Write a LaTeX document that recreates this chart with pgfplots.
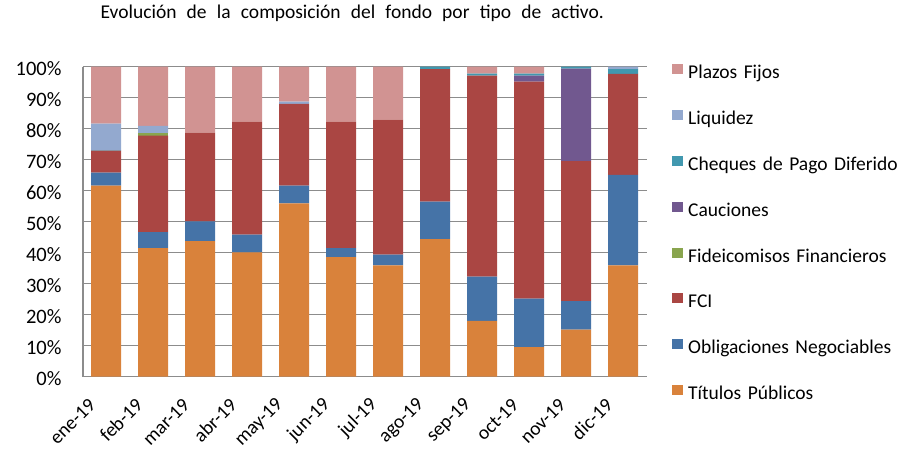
\documentclass[border=0pt]{standalone}
\usepackage{pgfplots}
\pgfplotsset{compat=1.18}
\usepackage{fontspec}
\setmainfont{Carlito}
\definecolor{cTP}{HTML}{D9823B}
\definecolor{cON}{HTML}{4573A7}
\definecolor{cFCI}{HTML}{AA4643}
\definecolor{cFF}{HTML}{89A54E}
\definecolor{cCau}{HTML}{71588F}
\definecolor{cCPD}{HTML}{4198AF}
\definecolor{cLiq}{HTML}{93A9CF}
\definecolor{cPF}{HTML}{D19392}
\definecolor{cGrid}{HTML}{8C8C8C}
\newcommand\legfont{\fontsize{19.5}{22}\selectfont\spaceskip=6.5pt\relax}
\begin{document}
\begin{tikzpicture}
\useasboundingbox (0,0) rectangle (899pt,452pt);
\begin{axis}[
  at={(82.7pt,75.3pt)}, anchor=south west,
  scale only axis, width=564pt, height=310pt,
  ybar stacked, bar width=30pt,
  xmin=-0.5, xmax=11.5, ymin=0, ymax=100,
  xtick=data,
  xticklabels={ene-19,feb-19,mar-19,abr-19,may-19,jun-19,jul-19,ago-19,sep-19,oct-19,nov-19,dic-19},
  ytick={0,10,...,100},
  yticklabels={0\%,10\%,20\%,30\%,40\%,50\%,60\%,70\%,80\%,90\%,100\%},
  major tick length=0pt,
  tick label style={font=\fontsize{19.5}{22}\selectfont},
  yticklabel style={font=\fontsize{20.5}{22}\selectfont, inner sep=0pt, xshift=-21pt, yshift=-2pt},
  xticklabel style={inner sep=0pt, anchor=east, xshift=-14pt, yshift=-25pt, rotate=45},
  ymajorgrids, grid style={cGrid, line width=1.6pt},
  axis x line*=bottom, axis y line*=left,
  axis line style={cGrid, line width=1.6pt},
  x axis line style={-}, y axis line style={-},
  title={\spaceskip=10.2pt\relax Evolución de la composición del fondo por tipo de activo.},
  title style={font=\fontsize{19.5}{22}\selectfont, at={(0.478,1)}, anchor=base, yshift=42.4pt, inner sep=0pt},
  legend style={at={(1,1)}, anchor=north west, xshift=25.3pt, yshift=2.5pt, draw=none,
    font=\legfont, row sep=29.8pt, column sep=5pt, inner sep=0pt,
    nodes={inner sep=0pt}},
  legend cell align=left,
  reverse legend,
  legend image code/.code={\path[#1,draw=none] (0pt,-1.5pt) rectangle (11pt,8.5pt);},
]
\addplot[fill=cTP, draw=none] coordinates {(0,61.6) (1,41.5) (2,43.7) (3,40.1) (4,55.9) (5,38.6) (6,35.9) (7,44.4) (8,18.0) (9,9.5) (10,15.2) (11,35.9)};
\addplot[fill=cON, draw=none] coordinates {(0,4.2) (1,5.1) (2,6.4) (3,5.7) (4,5.7) (5,2.9) (6,3.5) (7,12.1) (8,14.3) (9,15.7) (10,9.2) (11,29.2)};
\addplot[fill=cFCI, draw=none] coordinates {(0,7.1) (1,31.2) (2,28.6) (3,36.5) (4,26.4) (5,40.8) (6,43.5) (7,42.7) (8,64.8) (9,70.0) (10,45.1) (11,32.6)};
\addplot[fill=cFF, draw=none] coordinates {(0,0) (1,0.8) (2,0) (3,0) (4,0) (5,0) (6,0) (7,0) (8,0) (9,0) (10,0) (11,0)};
\addplot[fill=cCau, draw=none] coordinates {(0,0) (1,0) (2,0) (3,0) (4,0) (5,0) (6,0) (7,0) (8,0) (9,1.9) (10,29.9) (11,0)};
\addplot[fill=cCPD, draw=none] coordinates {(0,0.2) (1,0) (2,0) (3,0) (4,0) (5,0) (6,0) (7,0.8) (8,0.7) (9,0.7) (10,0.6) (11,1.5)};
\addplot[fill=cLiq, draw=none] coordinates {(0,8.5) (1,2.3) (2,0) (3,0) (4,0.7) (5,0) (6,0) (7,0) (8,0) (9,0) (10,0) (11,0.8)};
\addplot[fill=cPF, draw=none] coordinates {(0,18.4) (1,19.1) (2,21.3) (3,17.7) (4,11.3) (5,17.7) (6,17.1) (7,0) (8,2.2) (9,2.2) (10,0) (11,0)};
\legend{Títulos Públicos, Obligaciones Negociables, FCI, Fideicomisos Financieros, Cauciones, Cheques de Pago Diferido, Liquidez, Plazos Fijos}
\end{axis}
\end{tikzpicture}
\end{document}
